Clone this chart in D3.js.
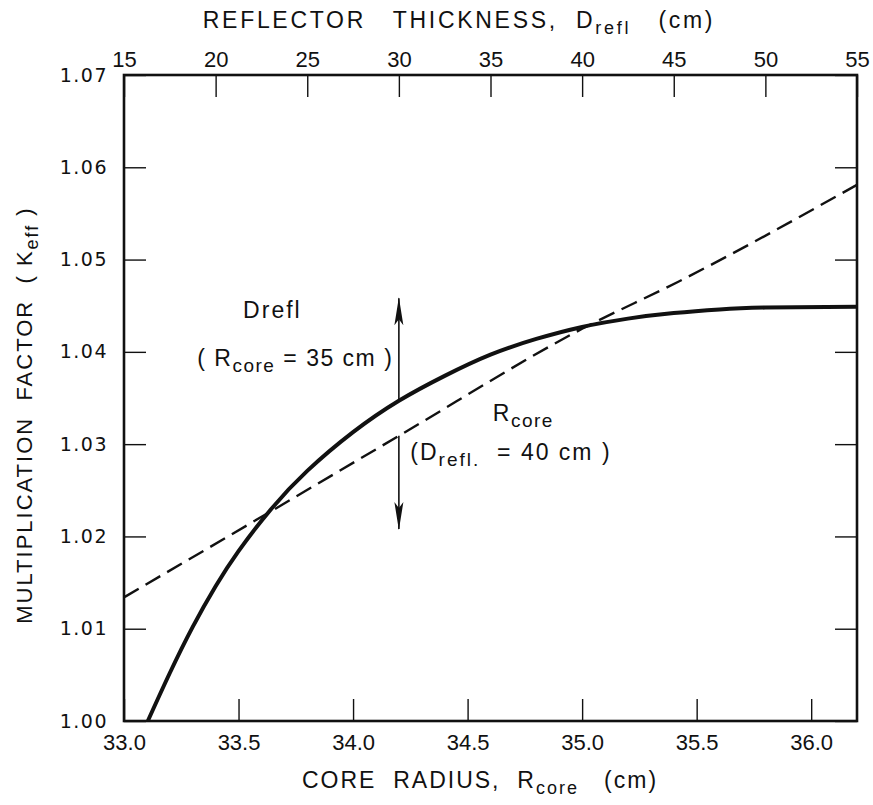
<!DOCTYPE html>
<html lang="en">
<head>
    <meta charset="UTF-8"/>
    <title>Keff vs reflector thickness and core radius</title>
    <script src="https://d3js.org/d3.v7.min.js"></script>
    <style>
        body { margin: 0; background: #fff; }
        text { font-family: "Liberation Sans", Arial, sans-serif; fill: #111; white-space: pre; }
    </style>
</head>
<body>
<div class="chart"></div>

<script>
    // tick values
    const rcoreTicks = [33.0, 33.5, 34.0, 34.5, 35.0, 35.5, 36.0];
    const dreflTicks = [15, 20, 25, 30, 35, 40, 45, 50, 55];
    const keffTicks = [1.00, 1.01, 1.02, 1.03, 1.04, 1.05, 1.06, 1.07];

    // solid curve: Keff vs reflector thickness (Rcore = 35 cm), top axis
    const dreflD = [16.3, 17.5, 18.75, 20.0, 21.25, 23.0, 25.0, 27.5, 30.0, 32.5, 35.0, 37.5, 40.0, 42.5, 45.0, 47.5, 50.0, 55.0];
    const dreflK = [1.0000, 1.0052, 1.0102, 1.0146, 1.0184, 1.0229, 1.0271, 1.0313, 1.0347, 1.0374, 1.0397, 1.0414, 1.0427, 1.0436, 1.0442, 1.0446, 1.0448, 1.0449];

    // dashed line: Keff vs core radius (Drefl = 40 cm), bottom axis
    const rcoreR = [33.0, 33.64, 34.2, 35.0, 35.42, 36.2];
    const rcoreK = [1.0134, 1.0227, 1.0309, 1.0425, 1.0476, 1.0581];

    // arrows (R position, from K, to K)
    const arrowR = 34.2;
    const arrowUp = [1.0347, 1.0458];
    const arrowDown = [1.0309, 1.0208];

    const W = 873, H = 805;
    const margin = {top: 75, right: 16, bottom: 84, left: 124};
    const gW = W - margin.left - margin.right;
    const gH = H - margin.top - margin.bottom;

    const svg = d3.select(".chart")
        .append("svg")
        .attr("width", W)
        .attr("height", H);

    const g = svg.append("g")
        .attr("transform", `translate(${margin.left}, ${margin.top})`);

    const x = d3.scaleLinear().domain([33.0, 36.2]).range([0, gW]);
    const xTop = d3.scaleLinear().domain([15, 55]).range([0, gW]);
    const y = d3.scaleLinear().domain([1.00, 1.07]).range([gH, 0]);

    const tickLen = 22;

    // bottom axis
    const axB = g.append("g")
        .attr("transform", `translate(0, ${gH})`)
        .call(d3.axisBottom(x).tickValues(rcoreTicks).tickFormat(d3.format(".1f"))
            .tickSize(-tickLen).tickPadding(13));
    // top axis
    const axT = g.append("g")
        .call(d3.axisTop(xTop).tickValues(dreflTicks).tickFormat(d3.format("d"))
            .tickSize(-tickLen).tickPadding(8));
    // left axis
    const axL = g.append("g")
        .call(d3.axisLeft(y).tickValues(keffTicks).tickFormat(d3.format(".2f"))
            .tickSize(-tickLen).tickPadding(16));
    // right axis, ticks only
    const axR = g.append("g")
        .attr("transform", `translate(${gW}, 0)`)
        .call(d3.axisRight(y).tickValues(keffTicks).tickFormat("").tickSize(-tickLen));

    [axB, axT, axL, axR].forEach(a => {
        a.select(".domain").remove();
        a.selectAll(".tick line").attr("stroke", "#111").attr("stroke-width", 1.4);
    });
    axB.selectAll("text").style("font-size", "22px").attr("fill", "#111");
    axT.selectAll("text").style("font-size", "22px").attr("fill", "#111");
    axL.selectAll("text")
        .style("font-family", "'DejaVu Sans', sans-serif")
        .style("font-size", "19px")
        .style("letter-spacing", "1.5px")
        .attr("fill", "#111");

    // frame
    g.append("rect")
        .attr("width", gW)
        .attr("height", gH)
        .attr("fill", "none")
        .attr("stroke", "#111")
        .attr("stroke-width", 2.6);

    // dashed Rcore line
    const dashed = rcoreR.map((r, i) => [x(r), y(rcoreK[i])]);
    g.append("path")
        .attr("d", d3.line().curve(d3.curveMonotoneX)(dashed))
        .attr("fill", "none")
        .attr("stroke", "#111")
        .attr("stroke-width", 2.4)
        .attr("stroke-dasharray", "17,8");

    // solid Drefl curve
    const solid = dreflD.map((d, i) => [xTop(d), y(dreflK[i])]);
    g.append("path")
        .attr("d", d3.line().curve(d3.curveNatural)(solid))
        .attr("fill", "none")
        .attr("stroke", "#111")
        .attr("stroke-width", 4);

    // arrows
    svg.append("defs").append("marker")
        .attr("id", "head")
        .attr("viewBox", "0 0 28 10")
        .attr("refX", 27)
        .attr("refY", 5)
        .attr("markerWidth", 28)
        .attr("markerHeight", 10)
        .attr("markerUnits", "userSpaceOnUse")
        .attr("orient", "auto")
        .append("path")
        .attr("d", "M28,5 L0,0.5 L6,5 L0,9.5 Z")
        .attr("fill", "#111");

    [arrowUp, arrowDown].forEach(a => {
        g.append("line")
            .attr("x1", x(arrowR)).attr("x2", x(arrowR))
            .attr("y1", y(a[0])).attr("y2", y(a[1]))
            .attr("stroke", "#111")
            .attr("stroke-width", 1.6)
            .attr("marker-end", "url(#head)");
    });

    // text with sub/superscripts
    const title = (sel, parts, size) => {
        const t = sel.append("text");
        parts.forEach(p => {
            t.append("tspan")
                .attr("dy", p.dy || 0)
                .style("font-size", (p.size || size) + "px")
                .text(p.t);
        });
        return t;
    };

    title(svg, [
        {t: "REFLECTOR   THICKNESS,  D"},
        {t: "refl", size: 18, dy: 6},
        {t: "   (cm)", dy: -6}
    ], 23)
        .attr("x", 459).attr("y", 28)
        .attr("text-anchor", "middle")
        .style("letter-spacing", "2.7px");

    title(svg, [
        {t: "CORE  RADIUS,  R"},
        {t: "core", size: 18, dy: 6},
        {t: "   (cm)", dy: -6}
    ], 23)
        .attr("x", 480).attr("y", 788)
        .attr("text-anchor", "middle")
        .style("letter-spacing", "2px");

    title(svg, [
        {t: "MULTIPLICATION  FACTOR  ( K"},
        {t: "eff", size: 18, dy: 6},
        {t: " )", dy: -6}
    ], 22)
        .attr("transform", "translate(32, 415) rotate(-90)")
        .attr("text-anchor", "middle")
        .style("letter-spacing", "2px");

    // curve annotations
    title(g, [{t: "Drefl"}], 23)
        .attr("x", x(33.52)).attr("y", y(1.0437))
        .style("letter-spacing", "2px");

    title(g, [
        {t: "( R"},
        {t: "core", size: 19, dy: 6},
        {t: " = 35 cm )", dy: -6}
    ], 23)
        .attr("x", x(33.32)).attr("y", y(1.0385))
        .style("letter-spacing", "1.5px");

    title(g, [
        {t: "R"},
        {t: "core", size: 19, dy: 6}
    ], 23)
        .attr("x", x(34.61)).attr("y", y(1.0325))
        .style("letter-spacing", "1.5px");

    title(g, [
        {t: "(D"},
        {t: "refl.", size: 19, dy: 6},
        {t: "  = 40 cm )", dy: -6}
    ], 23)
        .attr("x", x(34.25)).attr("y", y(1.0283))
        .style("letter-spacing", "2px");
</script>
</body>
</html>
